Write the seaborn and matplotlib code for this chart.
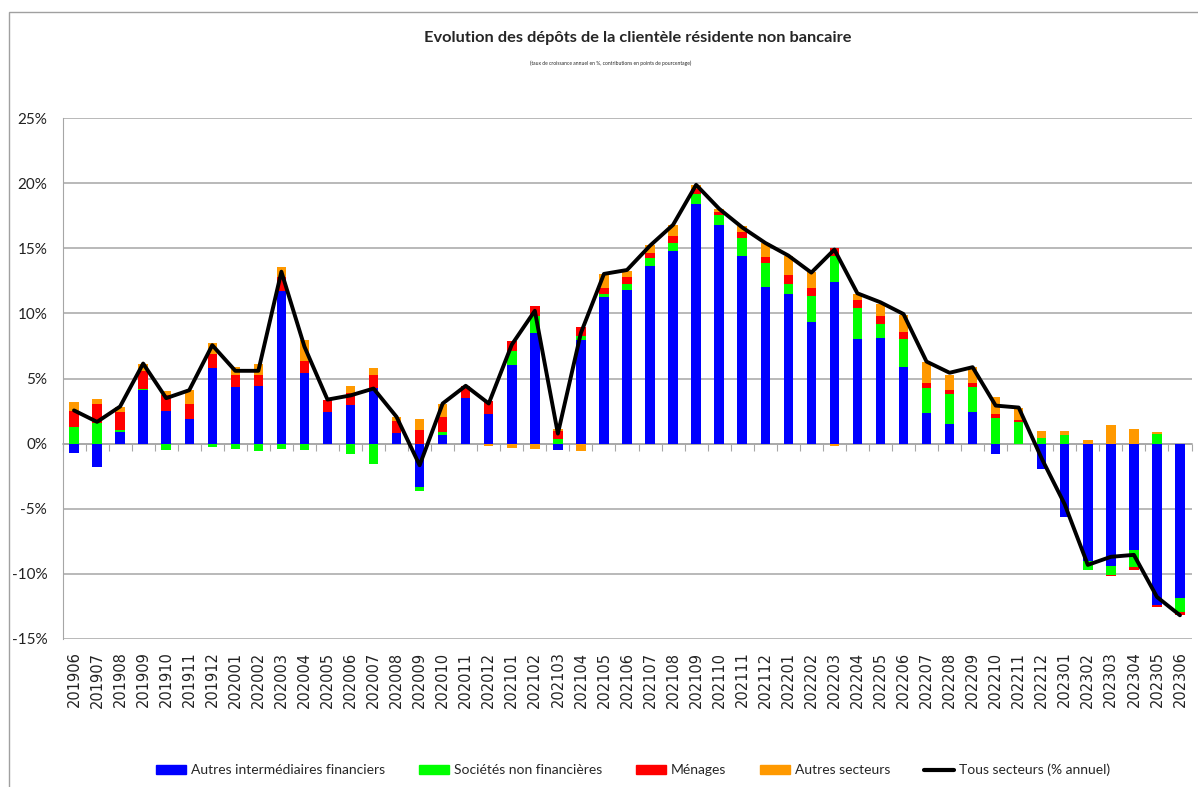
import numpy as np
import pandas as pd
from matplotlib import pyplot as plt
from matplotlib.patches import Rectangle
from matplotlib.lines import Line2D
from matplotlib.ticker import FuncFormatter
import seaborn as sns

###############################################################################
# DONNEES (en % / points de %)
###############################################################################
periodes = ["201906", "201907", "201908", "201909", "201910", "201911", "201912",
            "202001", "202002", "202003", "202004", "202005", "202006", "202007",
            "202008", "202009", "202010", "202011", "202012", "202101", "202102",
            "202103", "202104", "202105", "202106", "202107", "202108", "202109",
            "202110", "202111", "202112", "202201", "202202", "202203", "202204",
            "202205", "202206", "202207", "202208", "202209", "202210", "202211",
            "202212", "202301", "202302", "202303", "202304", "202305", "202306"]

autres_interm = [-0.70, -1.82, 0.90, 4.10, 2.51, 1.90, 5.82, 4.36, 4.41, 11.74,
                 5.44, 2.44, 3.00, 4.26, 0.82, -3.30, 0.64, 3.54, 2.26, 6.05,
                 8.49, -0.49, 7.95, 11.28, 11.79, 13.64, 14.82, 18.36, 16.79, 14.44,
                 12.05, 11.49, 9.36, 12.44, 8.03, 8.10, 5.92, 2.38, 1.51, 2.46,
                 -0.77, 0.00, -1.93, -5.65, -9.03, -9.38, -8.18, -12.38, -11.87]

societes_nf = [1.26, 1.60, 0.13, 0.10, -0.50, 0.00, -0.23, -0.38, -0.56, -0.38,
               -0.49, 0.00, -0.77, -1.59, 0.00, -0.30, 0.23, 0.00, 0.00, 1.05,
               1.33, 0.33, 0.33, 0.20, 0.49, 0.62, 0.62, 0.77, 0.77, 1.38,
               1.82, 0.77, 1.97, 1.95, 2.36, 1.08, 2.10, 1.90, 2.28, 1.90,
               1.97, 1.64, 0.47, 0.65, -0.66, -0.67, -1.31, 0.74, -1.05]

menages = [1.23, 1.46, 1.41, 1.38, 1.20, 1.18, 1.03, 0.92, 0.87, 1.03,
           0.87, 0.90, 0.92, 1.00, 0.92, 1.03, 1.18, 0.90, 1.00, 0.75,
           0.74, 0.64, 0.69, 0.49, 0.49, 0.38, 0.49, 0.44, 0.26, 0.41,
           0.49, 0.69, 0.64, 0.60, 0.67, 0.59, 0.56, 0.41, 0.33, 0.33,
           0.33, 0.15, 0.00, 0.00, 0.00, -0.08, -0.18, -0.20, -0.20]

autres_secteurs = [0.67, 0.38, 0.38, 0.50, 0.30, 1.03, 0.87, 0.62, 0.82, 0.77,
                   1.67, 0.00, 0.51, 0.51, 0.31, 0.85, 1.03, -0.05, -0.20, -0.35,
                   -0.38, 0.18, -0.56, 1.03, 0.51, 0.64, 0.87, 0.31, 0.20, 0.44,
                   1.05, 1.44, 1.18, -0.15, 0.41, 0.92, 1.28, 1.54, 1.15, 1.18,
                   1.26, 0.97, 0.52, 0.35, 0.30, 1.44, 1.13, 0.15, 0.00]

tous_secteurs = [2.55, 1.67, 2.85, 6.15, 3.49, 4.10, 7.56, 5.59, 5.59, 13.20,
                 7.45, 3.38, 3.70, 4.23, 2.05, -1.66, 3.08, 4.44, 3.08, 7.60,
                 10.20, 0.77, 8.50, 13.03, 13.33, 15.20, 16.80, 19.87, 18.03, 16.60,
                 15.41, 14.44, 13.13, 14.90, 11.54, 10.85, 9.95, 6.30, 5.44, 5.87,
                 2.92, 2.77, -1.15, -4.67, -9.31, -8.69, -8.54, -11.77, -13.18]

series = ["Autres intermédiaires financiers", "Sociétés non financières",
          "Ménages", "Autres secteurs"]
couleurs = ["#0000FF", "#00FF00", "#FF0000", "#FF9900"]

df = pd.DataFrame({"periode": periodes,
                   series[0]: autres_interm,
                   series[1]: societes_nf,
                   series[2]: menages,
                   series[3]: autres_secteurs,
                   "total": tous_secteurs})

###############################################################################
# GRAPHIQUE
###############################################################################
sns.set_style("white")
plt.rcParams["font.family"] = ["Lato", "DejaVu Sans"]

fig = plt.figure(figsize=(11.98, 7.87), dpi=100)
ax = fig.add_axes([62.5 / 1198, 1 - 639 / 787, 1129 / 1198, (639 - 118) / 787])

# barres empilees facon Excel : positifs au-dessus de zero, negatifs en dessous
base_pos = np.zeros(len(df))
base_neg = np.zeros(len(df))
for nom, coul in zip(series, couleurs):
    vals = df[nom].to_numpy()
    bas = np.where(vals >= 0, base_pos, base_neg)
    sns.barplot(data=df, x="periode", y=nom, bottom=bas, color=coul,
                width=0.41, errorbar=None, linewidth=0, saturation=1, ax=ax)
    base_pos = base_pos + np.clip(vals, 0, None)
    base_neg = base_neg + np.clip(vals, None, 0)

sns.lineplot(data=df, x="periode", y="total", color="black", lw=2.8,
             sort=False, ax=ax)

ax.set_ylim(-15, 25)
ax.set_xlim(-0.5, len(df) - 0.5)
ax.set_yticks(np.arange(-15, 26, 5))
ax.yaxis.set_major_formatter(FuncFormatter(lambda v, p: f"{v:.0f}%"))
ax.yaxis.grid(True, color="#A6A6A6", lw=1.1)
ax.set_axisbelow(True)
ax.set_xlabel("")
ax.set_ylabel("")
for s in ["top", "right", "bottom"]:
    ax.spines[s].set_visible(False)
ax.spines["left"].set_color("#A6A6A6")
ax.tick_params(axis="y", length=5, color="#A6A6A6", pad=6, labelsize=11,
               labelcolor="#222222")
ax.tick_params(axis="x", length=0, pad=9, labelrotation=90, labelsize=10.5,
               labelcolor="#222222")
for lab in ax.get_xticklabels():
    lab.set_fontfamily("DejaVu Sans")

# axe des categories sur la ligne zero
axe0 = ax.secondary_xaxis(0, transform=ax.transData)
axe0.set_xticks(np.arange(len(df) + 1) - 0.5)
axe0.set_xticklabels([])
axe0.tick_params(length=5, color="#A6A6A6", direction="out")
axe0.spines["bottom"].set_color("#A6A6A6")
axe0.spines["bottom"].set_linewidth(1.1)

# titres
fig.text(638 / 1198, 1 - 38 / 787,
         "Evolution des dépôts de la clientèle résidente non bancaire",
         ha="center", va="center", fontsize=11.8, fontweight="bold")
fig.text(611 / 1198, 1 - 63 / 787,
         "(taux de croissance annuel en %, contributions en points de pourcentage)",
         ha="center", va="center", fontsize=3.6)

# legende
poignees = [Rectangle((0, 0), 1, 1, color=c) for c in couleurs]
poignees.append(Line2D([0], [0], color="black", lw=3))
fig.legend(poignees, series + ["Tous secteurs (% annuel)"], loc="center",
           bbox_to_anchor=(633 / 1198, 1 - 770 / 787), ncol=5, frameon=False,
           handlelength=2.2, handleheight=0.6, handletextpad=0.35,
           columnspacing=2.4, prop={"family": "Lato", "size": 10})

# cadre exterieur
fig.add_artist(Rectangle((9 / 1198, -0.05), 1.1, 1.05 - 11.5 / 787,
                         transform=fig.transFigure, fill=False,
                         edgecolor="#A0A0A0", lw=1))

plt.savefig("out.png", dpi=100)
